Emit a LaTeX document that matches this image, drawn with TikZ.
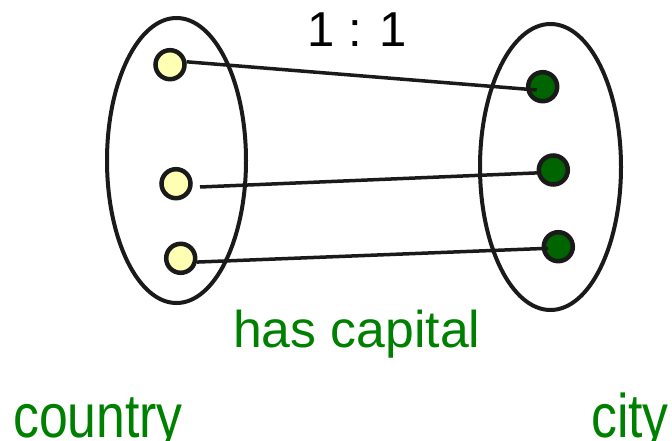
\documentclass[tikz,border=0pt]{standalone}
\usepackage{fontspec}
\setmainfont{Liberation Sans}
\usetikzlibrary{shapes.geometric,calc}
\definecolor{txtgreen}{HTML}{008000}
\definecolor{dotgreen}{HTML}{006400}
\definecolor{dotyellow}{HTML}{FFFFB4}
\definecolor{ink}{HTML}{1A1A1A}
\tikzset{
  setbox/.style={draw=ink, line width=4pt, ellipse, inner sep=0pt},
  ydot/.style={draw=ink, fill=dotyellow, circle, line width=4.5pt, minimum size=29pt, inner sep=0pt},
  gdot/.style={draw=ink, fill=dotgreen, circle, line width=4.5pt, minimum size=29pt, inner sep=0pt},
  link/.style={draw=ink, line width=3.5pt},
  lbl/.style={inner sep=0pt, anchor=base west, text=txtgreen},
}
\begin{document}
\begin{tikzpicture}[x=1pt,y=-1pt]
\useasboundingbox (0,0) rectangle (672,441);
\clip (0,0) rectangle (672,441);
\node[setbox, minimum width=139pt, minimum height=285pt] (L) at (176.5,160.5) {};
\node[setbox, minimum width=141pt, minimum height=286pt] (R) at (550.5,167) {};
\node[ydot] (y1) at (170,64.7) {};
\node[ydot] (y2) at (176,183.7) {};
\node[ydot] (y3) at (180.7,258.3) {};
\node[gdot] (g1) at (542.7,86.7) {};
\node[gdot] (g2) at (553.3,170) {};
\node[gdot] (g3) at (558.3,246.7) {};
\coordinate (e1) at ($(g1.center)+(-6,3.3)$);
\coordinate (s2) at ($(y2.center)+(24,3.3)$);
\coordinate (e3) at ($(g3.center)+(-10.3,1.6)$);
\draw[link] (y1.10) -- (e1);
\draw[link] (s2) -- (g2.190);
\draw[link] (y3.-13) -- (e3);
\node[lbl, text=black] (ratio) at (307,47) {\fontsize{49pt}{49pt}\selectfont 1 : 1};
\node[lbl] (rel) at (233,347) {\fontsize{51.7pt}{52pt}\selectfont has capital};
\node[lbl] (e1lbl) at (13,437) {\scalebox{0.84}[1]{\fontsize{61.6pt}{62pt}\selectfont country}};
\node[lbl] (e2lbl) at (591,437) {\scalebox{0.84}[1]{\fontsize{61.6pt}{62pt}\selectfont city}};
\end{tikzpicture}
\end{document}
